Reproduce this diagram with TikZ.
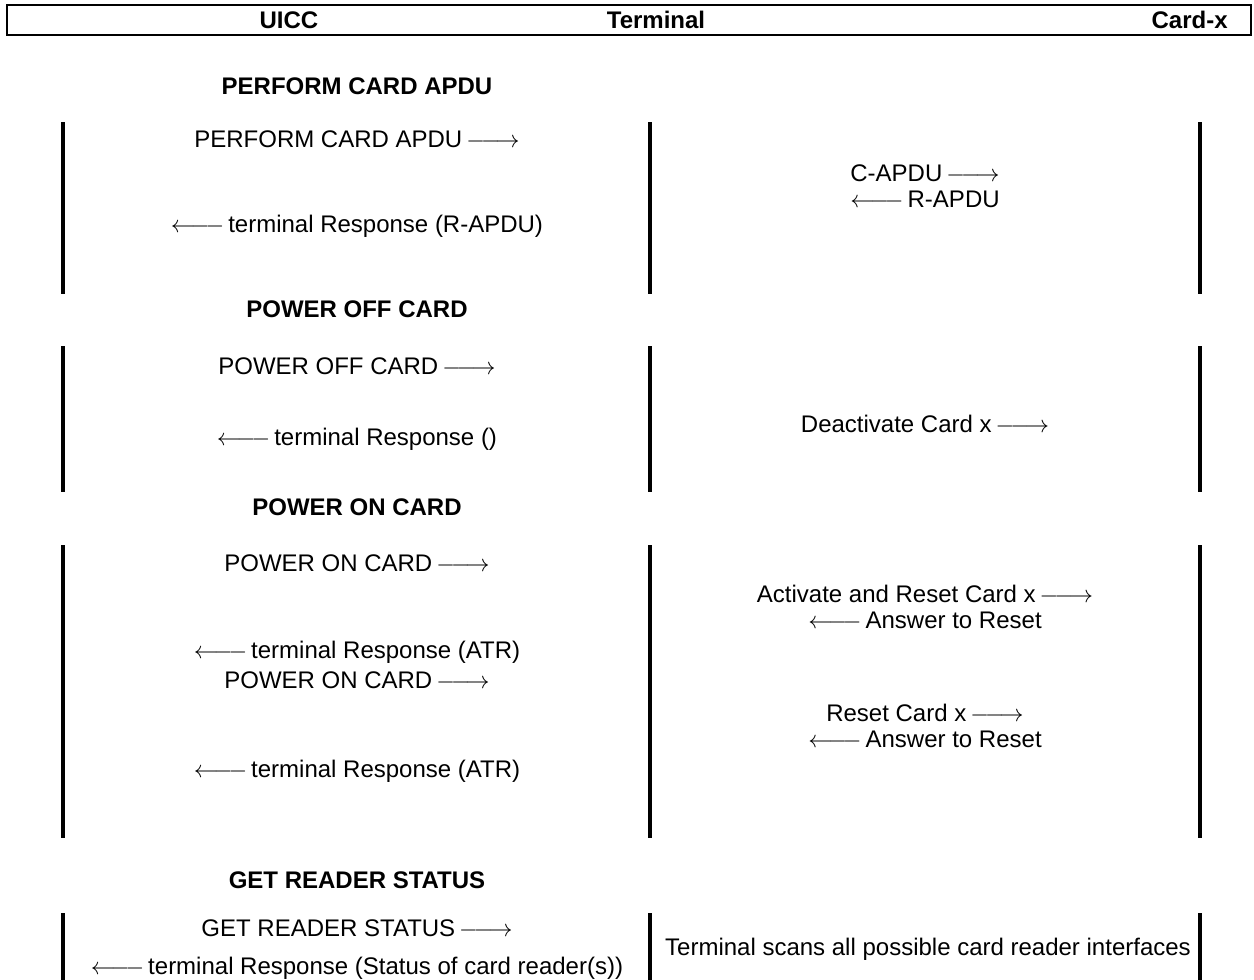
\documentclass[tikz,border=0pt]{standalone}
\usepackage{amsmath}
\usepackage{fontspec}
\setmainfont{Liberation Sans}

\newcommand{\msgto}{\,$\relbar\joinrel\longrightarrow$}
\newcommand{\msgfrom}{$\longleftarrow\joinrel\relbar$\,}

\tikzset{
  msg/.style={font=\fontsize{12pt}{13pt}\selectfont, inner sep=0pt, align=center},
  heading/.style={msg, font=\fontsize{12pt}{13pt}\selectfont\bfseries},
  lifeline/.style={line width=2.2pt},
}

\begin{document}
\begin{tikzpicture}[x=0.5pt,y=-0.5pt]
        \useasboundingbox (0,0) rectangle (1254,980);
        % Draw the header with the three parties
        \draw[line width=1pt] (7,5) rectangle (1251,35);
        \node[heading] (uicc) at (289,20) {UICC};
        \node[heading] (terminal) at (656,20) {Terminal};
        \node[heading, anchor=east] (cardx) at (1228,20) {Card-x};
        % Draw the lifeline segments of each command
        \foreach \ya/\yb in {122/294, 346/492, 545/838, 913/980} {
            \foreach \x in {63, 650, 1200} {
                \draw[lifeline] (\x,\ya) -- (\x,\yb);
            }
        }
        % Label the commands
        \node[heading] (perform) at (357,86) {PERFORM CARD APDU};
        \node[heading] (poweroff) at (357,309) {POWER OFF CARD};
        \node[heading] (poweron) at (357,507) {POWER ON CARD};
        \node[heading] (status) at (357,880) {GET READER STATUS};
        % PERFORM CARD APDU messages
        \node[msg] (apdu) at (357,139) {PERFORM CARD APDU\msgto};
        \node[msg] (apduresp) at (357,226) {\msgfrom terminal Response (R-APDU)};
        \node[msg] (capdu) at (925,186) {C-APDU\msgto\\ \msgfrom R-APDU};
        % POWER OFF CARD messages
        \node[msg] (off) at (357,366) {POWER OFF CARD\msgto};
        \node[msg] (offresp) at (357,439) {\msgfrom terminal Response ()};
        \node[msg] (deact) at (925,424) {Deactivate Card x\msgto};
        % POWER ON CARD messages
        \node[msg] (on) at (357,563) {POWER ON CARD\msgto};
        \node[msg] (onresp) at (357,652) {\msgfrom terminal Response (ATR)};
        \node[msg] (onagain) at (357,680) {POWER ON CARD\msgto};
        \node[msg] (onagainresp) at (357,771) {\msgfrom terminal Response (ATR)};
        \node[msg] (act) at (925,607) {Activate and Reset Card x\msgto\\ \msgfrom Answer to Reset};
        \node[msg] (reset) at (925,726) {Reset Card x\msgto\\ \msgfrom Answer to Reset};
        % GET READER STATUS messages
        \node[msg] (get) at (357,928) {GET READER STATUS\msgto};
        \node[msg] (getresp) at (357,968) {\msgfrom terminal Response (Status of card reader(s))};
        \node[msg] (scan) at (928,949) {Terminal scans all possible card reader interfaces};
\end{tikzpicture}
\end{document}
